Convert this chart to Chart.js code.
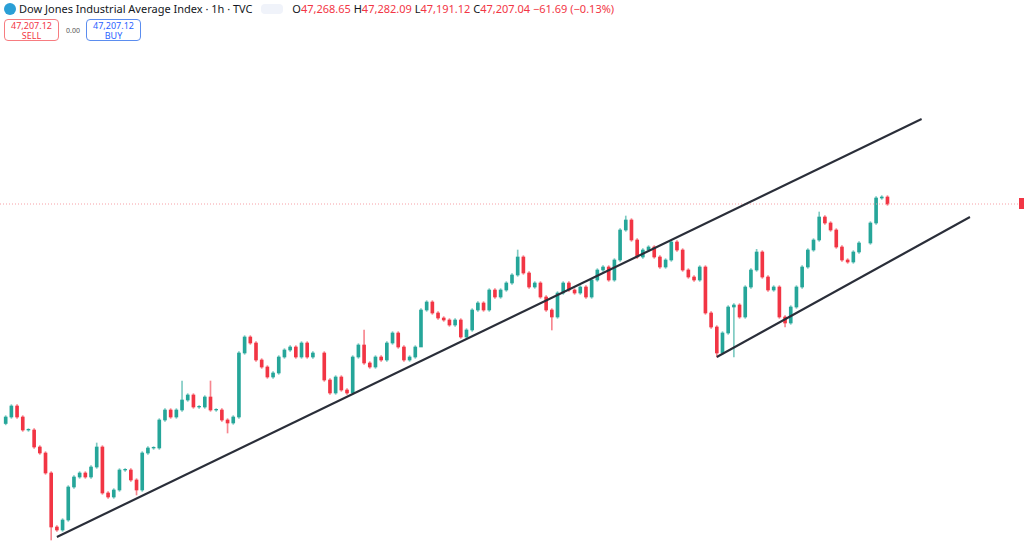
<!DOCTYPE html>
<html>
<head>
<meta charset="utf-8">
<script src="https://cdn.jsdelivr.net/npm/chart.js@4/dist/chart.umd.min.js"></script>
<style>
  body { margin: 0; width: 1024px; height: 543px; background: #fff; font-family: "Noto Sans", Roboto, sans-serif; overflow: hidden; position: relative; }
  #head { position: absolute; left: 4px; top: 1px; font-size: 11px; color: #131722; white-space: nowrap; z-index: 2; }
  #head .logo { display: inline-block; width: 12px; height: 12px; border-radius: 6px; background: #2a9fd6; vertical-align: -2px; margin-right: 3px; }
  #head .red { color: #f23645; }
  #head .tag { display: inline-block; background: #f0f3fa; border-radius: 4px; width: 22px; height: 10px; vertical-align: -1px; margin: 0 6px; }
  .box { position: absolute; top: 19px; width: 55px; height: 22px; border-radius: 4px; font-size: 9px; text-align: center; line-height: 10px; padding-top: 1px; box-sizing: border-box; z-index: 2; }
  #sell { left: 4px; border: 1px solid #f77c80; color: #f23645; }
  #buy { left: 86px; border: 1px solid #5b8def; color: #2962ff; }
  #spread { position: absolute; left: 66px; top: 26px; font-size: 7px; color: #555; }
  #wrap { position: absolute; left: 0; top: 45px; width: 1024px; height: 498px; }
  #marker { position: absolute; left: 1019px; top: 198px; width: 5px; height: 11px; background: #f23645; }
</style>
</head>
<body>
<div id="head"><span class="logo"></span>Dow Jones Industrial Average Index · 1h · TVC <span class="tag"></span>
  O<span class="red">47,268.65</span> H<span class="red">47,282.09</span> L<span class="red">47,191.12</span> C<span class="red">47,207.04 −61.69 (−0.13%)</span></div>
<div id="sell" class="box">47,207.12<br>SELL</div>
<div id="spread">0.00</div>
<div id="buy" class="box">47,207.12<br>BUY</div>
<div id="wrap"><canvas id="chart"></canvas></div>
<div id="marker"></div>
<script>
// hourly closes (null = gap in the session)
let closes = [45929, 45995, 45929, 45851, 45851, 45749, 45713, 45593, 45269, 45251,
  45311, 45509, 45569, 45593, 45569, 45629, 45749, 45473, 45449, 45491,
  45611, 45611, 45551, 45491, 45713, 45743, 45743, 45911, 45971, 45929,
  45971, 46031, 46061, 45989, 45989, 46049, 45971, 45971, 45911, 45893,
  45929, 46313, 46409, 46373, 46271, 46229, 46169, 46193, 46289, 46331,
  46349, 46289, 46373, 46289, 46313, null, 46151, 46073, 46169, 46091,
  46073, 46289, 46361, 46253, 46229, 46289, 46271, 46373, 46433, 46349,
  46271, 46289, 46349, 46571, 46619, 46553, 46523, 46511, 46481, 46511,
  46409, 46451, 46571, 46613, 46571, 46691, 46649, 46691, 46733, 46781,
  46889, 46793, 46709, 46733, 46649, 46571, 46529, 46673, 46733, 46691,
  46673, 46709, 46649, 46751, 46811, 46829, 46751, 46871, 47051, 47111,
  46991, 46889, 46931, 46949, 46889, 46829, 46871, 46979, 46931, 46811,
  46769, 46751, 46829, 46553, 46469, 46313, 46433, 46589, 46601, 46529,
  46709, 46811, 46919, 46769, 46691, 46709, 46529, 46493, 46589, 46709,
  46829, 46931, 46991, 47129, 47093, 47051, 46949, 46871, 46859, 46919,
  46973, null, 47093, 47243, 47249, 47207];
let firstOpen = 45890;
// notable wicks: [candle index, price]
let spikeHighs = [[16, 45773], [31, 46145], [36, 46145], [63, 46451], [90, 46931], [109, 47135], [143, 47159], [132, 46935]];
let spikeLows = [[8, 45191], [23, 45461], [39, 45833], [73, 46409], [96, 46451], [125, 46289], [128, 46289], [137, 46470]];
// trend lines: [index, price] start and end
let upperLine = [[9, 45209], [161, 47717]];
let lowerLine = [[125, 46289], [169.5, 47129]];
let lastPrice = 47207;

const green = "#26a69a", red = "#f23645";
let bodies = [], wicks = [], colors = [];
let prev = firstOpen;
for (let i = 0; i < closes.length; i++) {
    if (closes[i] === null) { continue; }
    let o = prev, c = closes[i];
    let hi = Math.max(o, c) + 8, lo = Math.min(o, c) - 8;
    spikeHighs.forEach(s => { if (s[0] === i) hi = s[1]; });
    spikeLows.forEach(s => { if (s[0] === i) lo = s[1]; });
    if (Math.abs(c - o) < 4) c = o + 4;
    bodies.push({ x: i, y: [o, c] });
    wicks.push({ x: i, y: [lo, hi] });
    colors.push(closes[i] >= o ? green : red);
    prev = closes[i];
}

new Chart(document.getElementById("chart"), {
    type: "bar",
    data: {
        datasets: [
            { type: "line", data: upperLine.map(p => ({ x: p[0], y: p[1] })), borderColor: "#2a2e39", borderWidth: 2, pointRadius: 0 },
            { type: "line", data: lowerLine.map(p => ({ x: p[0], y: p[1] })), borderColor: "#2a2e39", borderWidth: 2, pointRadius: 0 },
            { type: "line", data: [{ x: -1, y: lastPrice }, { x: 181, y: lastPrice }], borderColor: "#f7a0a6", borderWidth: 1, borderDash: [1, 2], pointRadius: 0 },
            { data: wicks, backgroundColor: colors.map(c => c + "99"), barThickness: 1, grouped: false },
            { data: bodies, backgroundColor: colors, barThickness: 3, grouped: false }
        ]
    },
    options: {
        responsive: true,
        maintainAspectRatio: false,
        animation: false,
        layout: { padding: 0 },
        plugins: { legend: { display: false }, tooltip: { enabled: false } },
        scales: {
            x: { type: "linear", min: -1, max: 179, display: false, offset: false },
            y: { min: 45173, max: 48161, display: false }
        }
    }
});
</script>
</body>
</html>
